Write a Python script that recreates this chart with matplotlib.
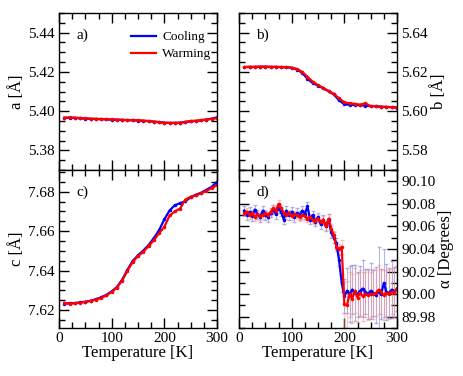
#!/usr/bin/env python3
"""Lattice parameters vs temperature, cooling and warming, 2x2 panels."""

import matplotlib
matplotlib.use("Agg")
import matplotlib.pyplot as plt
from matplotlib.lines import Line2D
from matplotlib.ticker import MultipleLocator

# ---- data ----
T_ABC = [10, 20, 30, 40, 50, 60, 70, 80, 90, 100, 110, 120, 130, 140, 150,
         160, 170, 180, 190, 200, 210, 220, 230, 240, 250, 260, 270, 280, 290, 300]

a_cool = [5.3965, 5.3966, 5.3965, 5.3963, 5.3962, 5.3960, 5.3960, 5.3959, 5.3958, 5.3956,
          5.3956, 5.3955, 5.3954, 5.3953, 5.3952, 5.3950, 5.3949, 5.3946, 5.3944, 5.3941,
          5.3940, 5.3940, 5.3941, 5.3944, 5.3948, 5.3950, 5.3953, 5.3957, 5.3962, 5.3968]
a_warm = [5.3967, 5.3968, 5.3967, 5.3965, 5.3963, 5.3962, 5.3961, 5.3960, 5.3959, 5.3958,
          5.3957, 5.3956, 5.3955, 5.3955, 5.3953, 5.3952, 5.3950, 5.3947, 5.3944, 5.3941,
          5.3940, 5.3940, 5.3941, 5.3946, 5.3950, 5.3951, 5.3954, 5.3957, 5.3960, 5.3964]

b_cool = [5.6224, 5.6225, 5.6225, 5.6226, 5.6226, 5.6225, 5.6225, 5.6224, 5.6223, 5.6221,
          5.6212, 5.6195, 5.6165, 5.6143, 5.6130, 5.6116, 5.6101, 5.6085, 5.6055, 5.6035,
          5.6032, 5.6032, 5.6030, 5.6028, 5.6025, 5.6025, 5.6022, 5.6021, 5.6020, 5.6018]
b_warm = [5.6225, 5.6226, 5.6226, 5.6227, 5.6227, 5.6226, 5.6226, 5.6225, 5.6224, 5.6222,
          5.6215, 5.6200, 5.6175, 5.6150, 5.6133, 5.6118, 5.6103, 5.6088, 5.6065, 5.6045,
          5.6040, 5.6037, 5.6033, 5.6040, 5.6025, 5.6026, 5.6023, 5.6022, 5.6020, 5.6018]

c_cool = [7.6233, 7.6235, 7.6236, 7.6240, 7.6243, 7.6248, 7.6256, 7.6265, 7.6278, 7.6295,
          7.6318, 7.6355, 7.6405, 7.6450, 7.6478, 7.6502, 7.6530, 7.6565, 7.6605, 7.6660,
          7.6705, 7.6732, 7.6742, 7.6752, 7.6772, 7.6785, 7.6795, 7.6810, 7.6825, 7.6850]
c_warm = [7.6237, 7.6234, 7.6235, 7.6238, 7.6242, 7.6247, 7.6254, 7.6262, 7.6275, 7.6293,
          7.6315, 7.6350, 7.6400, 7.6444, 7.6475, 7.6495, 7.6525, 7.6554, 7.6590, 7.6622,
          7.6680, 7.6700, 7.6715, 7.6760, 7.6775, 7.6782, 7.6792, 7.6805, 7.6818, 7.6834]

T_ALPHA = [10, 15, 20, 25, 30, 35, 40, 45, 50, 55, 60, 65, 70, 75, 80, 85, 90, 95,
           100, 105, 110, 115, 120, 125, 130, 135, 140, 145, 150, 155, 160, 165, 170,
           175, 180, 185, 190, 195, 200, 205, 210, 215, 220, 225, 230, 235, 240, 245,
           250, 255, 260, 265, 270, 275, 280, 285, 290, 295, 300]

alpha_cool = [90.074, 90.070, 90.073, 90.069, 90.075, 90.071, 90.068, 90.074, 90.070, 90.068,
              90.072, 90.075, 90.071, 90.076, 90.073, 90.066, 90.074, 90.070, 90.073, 90.068,
              90.072, 90.070, 90.074, 90.071, 90.078, 90.066, 90.070, 90.064, 90.068, 90.062,
              90.066, 90.060, 90.066, 90.055, 90.050, 90.045, 90.030, 90.010, 89.998, 90.003,
              90.000, 90.004, 90.001, 90.000, 90.003, 90.005, 90.002, 90.000, 90.003, 90.001,
              89.999, 90.002, 90.000, 90.010, 90.002, 90.001, 90.004, 90.002, 90.005]
alpha_warm = [90.072, 90.073, 90.070, 90.072, 90.068, 90.071, 90.069, 90.070, 90.072, 90.070,
              90.073, 90.076, 90.074, 90.080, 90.076, 90.072, 90.070, 90.072, 90.069, 90.071,
              90.070, 90.068, 90.070, 90.069, 90.067, 90.068, 90.066, 90.065, 90.067, 90.064,
              90.066, 90.060, 90.067, 90.058, 90.052, 90.042, 90.040, 90.042, 89.991, 89.990,
              90.000, 89.996, 90.003, 89.997, 90.001, 89.998, 90.000, 89.999, 90.000, 90.000,
              90.001, 90.004, 90.002, 89.999, 90.001, 90.000, 90.002, 90.001, 90.005]

alpha_cool_err = [0.004, 0.004, 0.004, 0.004, 0.004, 0.004, 0.004, 0.004, 0.004, 0.004,
                  0.004, 0.004, 0.004, 0.004, 0.004, 0.004, 0.004, 0.004, 0.004, 0.004,
                  0.004, 0.004, 0.004, 0.004, 0.004, 0.004, 0.004, 0.004, 0.004, 0.004,
                  0.004, 0.004, 0.005, 0.005, 0.005, 0.005, 0.005, 0.008, 0.015, 0.020,
                  0.025, 0.022, 0.025, 0.020, 0.022, 0.025, 0.020, 0.022, 0.025, 0.020,
                  0.025, 0.040, 0.022, 0.030, 0.025, 0.022, 0.025, 0.022, 0.020]
alpha_warm_err = [0.003, 0.003, 0.003, 0.003, 0.003, 0.003, 0.003, 0.003, 0.003, 0.003,
                  0.003, 0.003, 0.003, 0.003, 0.003, 0.003, 0.003, 0.003, 0.003, 0.003,
                  0.003, 0.003, 0.003, 0.003, 0.003, 0.003, 0.003, 0.003, 0.003, 0.003,
                  0.003, 0.003, 0.004, 0.004, 0.004, 0.004, 0.004, 0.006, 0.020, 0.022,
                  0.020, 0.022, 0.020, 0.022, 0.020, 0.022, 0.020, 0.022, 0.020, 0.022,
                  0.020, 0.022, 0.020, 0.022, 0.020, 0.022, 0.020, 0.022, 0.020]

BLUE = "#0000ff"
RED = "#ff0000"

plt.rcParams["font.family"] = ["Liberation Serif", "DejaVu Serif"]
plt.rcParams["mathtext.fontset"] = "stix"

fig = plt.figure(figsize=(4.63, 3.76), dpi=100)
W, H = 463.0, 376.0


def make_ax(x0, y0, x1, y1):
    return fig.add_axes([x0 / W, 1 - y1 / H, (x1 - x0) / W, (y1 - y0) / H])


ax_a = make_ax(59, 13, 217, 170)
ax_b = make_ax(239, 13, 397, 170)
ax_c = make_ax(59, 170, 217, 328)
ax_d = make_ax(239, 170, 397, 328)


def style(ax, ymin, ymax, ymajor, yminor, right=False, xlabels=False):
    ax.set_xlim(0, 300)
    ax.set_ylim(ymin, ymax)
    ax.xaxis.set_major_locator(MultipleLocator(100))
    ax.xaxis.set_minor_locator(MultipleLocator(25))
    ax.yaxis.set_major_locator(MultipleLocator(ymajor))
    ax.yaxis.set_minor_locator(MultipleLocator(yminor))
    ax.tick_params(which="both", direction="in", top=True, right=True, left=True, bottom=True,
                   labelsize=11, width=1.0, pad=3)
    ax.tick_params(which="major", length=7)
    ax.tick_params(which="minor", length=4)
    ax.tick_params(axis="x", labelbottom=xlabels)
    if right:
        ax.tick_params(axis="y", labelleft=False, labelright=True)
        ax.yaxis.set_label_position("right")
    for sp in ax.spines.values():
        sp.set_linewidth(1.0)
    if xlabels:
        ax.set_xlabel("Temperature [K]", fontsize=12, labelpad=0)


def curve(ax, x, y, color):
    ax.plot(x, y, color=color, lw=1.6, marker="o", ms=1.5)


curve(ax_a, T_ABC, a_cool, BLUE)
curve(ax_a, T_ABC, a_warm, RED)
style(ax_a, 5.37, 5.45, 0.02, 0.005)
ax_a.set_ylabel("a [Å]", fontsize=12, labelpad=2)
handles = [Line2D([], [], color=BLUE, lw=1.6), Line2D([], [], color=RED, lw=1.6)]
ax_a.legend(handles, ["Cooling", "Warming"], loc="upper right", bbox_to_anchor=(1.04, 0.96),
            frameon=False, fontsize=9.5, handlelength=1.9, handletextpad=0.5, labelspacing=0.35)

curve(ax_b, T_ABC, b_cool, BLUE)
curve(ax_b, T_ABC, b_warm, RED)
style(ax_b, 5.57, 5.65, 0.02, 0.005, right=True)
ax_b.set_ylabel("b [Å]", fontsize=12, labelpad=2)

curve(ax_c, T_ABC, c_cool, BLUE)
curve(ax_c, T_ABC, c_warm, RED)
style(ax_c, 7.611, 7.691, 0.02, 0.005, xlabels=True)
ax_c.set_ylabel("c [Å]", fontsize=12, labelpad=2)

ax_d.errorbar(T_ALPHA, alpha_cool, yerr=alpha_cool_err, fmt="none", ecolor="#7070d0",
              elinewidth=0.8, capsize=1.5, alpha=0.5)
ax_d.errorbar(T_ALPHA, alpha_warm, yerr=alpha_warm_err, fmt="none", ecolor="#f09090",
              elinewidth=0.8, capsize=1.5, alpha=0.5)
curve(ax_d, T_ALPHA, alpha_cool, BLUE)
curve(ax_d, T_ALPHA, alpha_warm, RED)
style(ax_d, 89.97, 90.11, 0.02, 0.01, right=True, xlabels=True)
ax_d.set_ylabel("α [Degrees]", fontsize=12, labelpad=2)

for ax, tag in zip([ax_a, ax_b, ax_c, ax_d], ["a)", "b)", "c)", "d)"]):
    ax.text(0.11, 0.86, tag, transform=ax.transAxes, fontsize=11, ha="left", va="center")

fig.savefig("out.png", dpi=100)
